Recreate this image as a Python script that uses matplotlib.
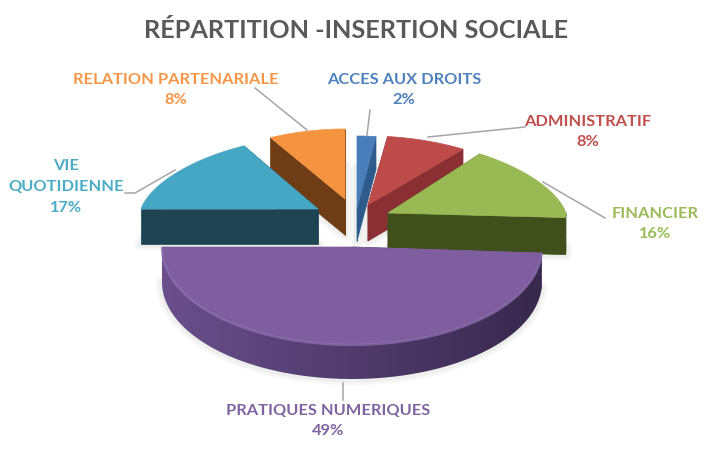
import numpy as np
import matplotlib
matplotlib.use('Agg')
import matplotlib.pyplot as plt
from matplotlib.patches import Polygon

plt.rcParams['font.family'] = ['Lato', 'DejaVu Sans']

title = 'RÉPARTITION -INSERTION SOCIALE'
categories = ['ACCES AUX DROITS', 'ADMINISTRATIF', 'FINANCIER',
              'PRATIQUES NUMERIQUES', 'VIE\nQUOTIDIENNE', 'RELATION PARTENARIALE']
values = [2, 8, 16, 49, 17, 8]

top_colors = ['#4a7ebb', '#bc4b49', '#98b954', '#7e5e9e', '#46a7c4', '#f59440']
side_left = ['#2f5a8c', '#8a2f33', '#414f1d', '#6a4f8c', '#1e4352', '#6e3d15']
side_right = ['#2f5a8c', '#8a2f33', '#414f1d', '#37284d', '#1e4352', '#6e3d15']
label_colors = ['#4f81bd', '#c0504d', '#9bbb59', '#8064a2', '#4bacc6', '#f79646']

# apex x, apex y, radius x, radius y, depth for each exploded slice (pixels)
apex = [(357, 208), (368, 205), (388, 213), (352, 247), (318, 209), (345, 199)]
radii = [(178, 72), (184, 69), (178, 73), (190, 97), (177, 72), (178, 70)]
depth = [33, 36, 37, 35, 35, 36]
perspective = 0.15  # the far side of the pie looks narrower

label_pos = [(404, 90), (588, 132), (655, 224), (328, 421), (66, 187), (176, 90)]
leaders = [
    [(370, 110), (367, 135)],
    [(525, 127), (428, 137)],
    [(605, 218), (543, 182)],
    [(343, 383), (343, 400)],
    [(125, 193), (135, 193), (175, 170)],
    [(255, 88), (307, 130)],
]

fig = plt.figure(figsize=(7.07, 4.5), dpi=100)
ax = fig.add_axes([0, 0, 1, 1])
ax.set_xlim(0, 707)
ax.set_ylim(450, 0)
ax.axis('off')


def arc_points(i, a0, a1):
    # angles clockwise from 12 o'clock, squashed to an ellipse
    t = np.radians(np.linspace(a0, a1, 120))
    scale = 1 - perspective * np.clip(np.cos(t), 0, None)
    x = apex[i][0] + radii[i][0] * scale * np.sin(t)
    y = apex[i][1] - radii[i][1] * np.cos(t)
    return np.column_stack([x, y])


def gradient_fill(poly, c0, c1, zorder):
    # horizontal gradient clipped to the polygon
    cmap = matplotlib.colors.LinearSegmentedColormap.from_list('g', [c0, c1])
    x0, x1 = poly[:, 0].min(), poly[:, 0].max()
    y0, y1 = poly[:, 1].min(), poly[:, 1].max()
    im = ax.imshow(np.linspace(0, 1, 256)[None, :], cmap=cmap, extent=(x0, x1, y1, y0),
                   aspect='auto', zorder=zorder)
    im.set_clip_path(Polygon(poly, closed=True, transform=ax.transData))


edges = np.cumsum([0] + values) / sum(values) * 360
order = [5, 4, 0, 1, 2, 3]

# draw back slices first, the big front one last
for z, i in enumerate(order):
    a0, a1 = edges[i], edges[i + 1]
    rim = arc_points(i, a0, a1)
    p = np.array(apex[i], dtype=float)
    d = np.array([0, depth[i]])
    face = np.vstack([p, rim])
    z = z * 2 + 2

    # soft grey shadow around the base
    base = face + d
    for lw, a in [(9, 0.25), (5, 0.35)]:
        ax.add_patch(Polygon(base, closed=True, fc='#dfe2dc', ec='#dfe2dc', lw=lw, alpha=a,
                             joinstyle='round', zorder=1))

    # cut faces down to the base
    for pt in (rim[0], rim[-1]):
        wall = np.array([p, pt, pt + d, p + d])
        ax.add_patch(Polygon(wall, closed=True, fc=side_left[i], ec=side_left[i], lw=0.5, zorder=z))
    # outer rim, only the part facing the viewer
    t = np.linspace(a0, a1, 120)
    front = (t > 90) & (t < 270)
    if front.any():
        r = rim[front]
        wall = np.vstack([r, (r + d)[::-1]])
        if i == 3:
            gradient_fill(wall, side_left[i], side_right[i], z)
        else:
            ax.add_patch(Polygon(wall, closed=True, fc=side_left[i], ec=side_left[i], lw=0.5, zorder=z))

    ax.add_patch(Polygon(face, closed=True, fc=top_colors[i], ec=top_colors[i], lw=0.5,
                         joinstyle='round', zorder=z + 0.5))
    if i == 3:
        # bevel highlight where the top meets the rim
        ax.plot(rim[:, 0], rim[:, 1] + 1, color='#8f72b3', lw=1.6, alpha=0.7, zorder=z + 0.6)

for i, pts in enumerate(leaders):
    pts = np.array(pts)
    ax.plot(pts[:, 0], pts[:, 1], color='#a6a6a6', lw=1.1, zorder=20)
    x, y = label_pos[i]
    ax.text(x, y, f'{categories[i]}\n{values[i]}%', color=label_colors[i], fontsize=11.8,
            fontweight='bold', ha='center', va='center', linespacing=1.62, zorder=21)

ax.text(356, 30, title, color='#595959', fontsize=18.2, fontweight='bold',
        ha='center', va='center')

fig.savefig('out.png', dpi=100)
